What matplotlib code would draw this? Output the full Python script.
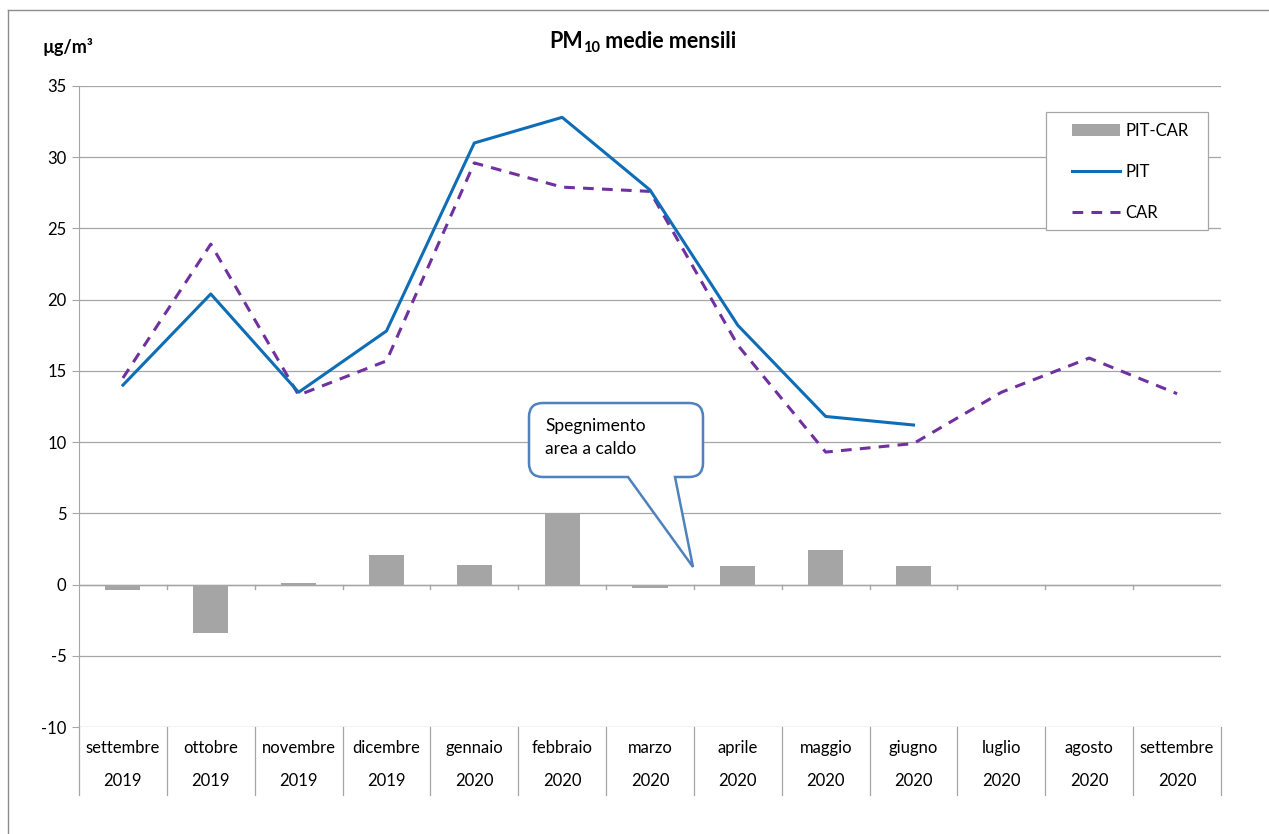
import matplotlib
matplotlib.use("Agg")
import matplotlib.pyplot as plt
from matplotlib.path import Path
from matplotlib.patches import PathPatch, Patch, Rectangle
from matplotlib.lines import Line2D
import matplotlib.transforms as mtransforms
import numpy as np

plt.rcParams['font.family'] = ['Lato', 'DejaVu Sans']

months = ["settembre", "ottobre", "novembre", "dicembre", "gennaio", "febbraio",
          "marzo", "aprile", "maggio", "giugno", "luglio", "agosto", "settembre"]
years = ["2019", "2019", "2019", "2019", "2020", "2020", "2020", "2020",
         "2020", "2020", "2020", "2020", "2020"]
pit = [14.0, 20.4, 13.5, 17.8, 31.0, 32.8, 27.7, 18.2, 11.8, 11.2, None, None, None]
car = [14.5, 23.9, 13.3, 15.7, 29.6, 27.9, 27.6, 16.8, 9.3, 9.9, 13.5, 15.9, 13.4]
diff = [-0.4, -3.4, 0.12, 2.1, 1.4, 5.0, -0.22, 1.28, 2.45, 1.33, 0, 0, 0]

W, H = 1269, 834
fig = plt.figure(figsize=(W / 100, H / 100), dpi=100)
ax = fig.add_axes([79 / W, 1 - 727 / H, (1221 - 79) / W, (727 - 86) / H])

x = np.arange(len(months))
grid_c = "#A6A6A6"
pit_c = "#0F6DB6"
car_c = "#7030A0"
bar_c = "#A5A5A5"

ax.bar(x, diff, width=0.4, color=bar_c, zorder=2)
pit_arr = np.array([np.nan if v is None else v for v in pit], dtype=float)
ax.plot(x, pit_arr, color=pit_c, lw=2.2, zorder=4)
ax.plot(x, car, color=car_c, lw=2.2, ls=(0, (3.5, 2.7)), zorder=3)

ax.set_xlim(-0.5, len(months) - 0.5)
ax.set_ylim(-10, 35)
ax.set_yticks(np.arange(-10, 36, 5))
ax.set_yticklabels([str(v) for v in range(-10, 36, 5)], fontsize=12)
for v in range(-10, 36, 5):
    ax.axhline(v, color=grid_c, lw=0.9, zorder=0)
ax.axhline(0, color=grid_c, lw=1.0, zorder=2.5)
ax.tick_params(axis="y", length=5, color=grid_c, pad=4)
ax.tick_params(axis="x", length=0, labelbottom=False)
for s in ["top", "right", "bottom"]:
    ax.spines[s].set_visible(False)
ax.spines["left"].set_color(grid_c)

# category tick marks at zero line
for b in np.arange(0.5, len(months) - 0.5, 1):
    ax.plot([b, b], [0, -0.3], color=grid_c, lw=1.0, zorder=2.5)

# label table under axes
trans = mtransforms.blended_transform_factory(ax.transData, ax.transAxes)
tbl_h = (795 - 727) / (727 - 86)
for b in np.arange(-0.5, len(months), 1):
    ax.plot([b, b], [0, -tbl_h], color=grid_c, lw=0.9, transform=trans, clip_on=False)
for i in range(len(months)):
    ax.text(x[i], -(748 - 727) / (727 - 86), months[i], transform=trans,
            ha="center", va="center", fontsize=12)
    ax.text(x[i], -(781 - 727) / (727 - 86), years[i], transform=trans,
            ha="center", va="center", fontsize=12)

# title with bold subscript, assembled from pieces
renderer = fig.canvas.get_renderer()
pix = mtransforms.Affine2D().scale(1 / W, 1 / H) + fig.transFigure
ty = H - 42
t1 = fig.text(0, 0, "PM", fontsize=15.5, fontweight="bold", va="baseline", transform=pix)
t2 = fig.text(0, 0, "10", fontsize=10.5, fontweight="bold", va="baseline", transform=pix)
t3 = fig.text(0, 0, " medie mensili", fontsize=15.5, fontweight="bold", va="baseline",
              transform=pix)
w1 = t1.get_window_extent(renderer).width
w2 = t2.get_window_extent(renderer).width
w3 = t3.get_window_extent(renderer).width
x0 = 643 - (w1 + w2 + w3) / 2
base = ty - 6
t1.set_position((x0, base))
t2.set_position((x0 + w1, base - 4))
t3.set_position((x0 + w1 + w2, base))

fig.text(42 / W, 1 - 47 / H, "µg/m³", ha="left", va="center", fontsize=13, fontweight="bold")

# legend (frame drawn separately)
fig.add_artist(Rectangle((1046, H - 230), 1208 - 1046, 230 - 112, transform=pix,
                         facecolor="white", edgecolor=grid_c, lw=0.9, zorder=5))
handles = [Patch(facecolor=bar_c, edgecolor="none"),
           Line2D([], [], color=pit_c, lw=2.2),
           Line2D([], [], color=car_c, lw=2.2, ls=(0, (3.5, 2.7)))]
leg = fig.legend(handles, ["PIT-CAR", "PIT", "CAR"], loc="upper left",
                 bbox_to_anchor=(1072 / W, 1 - 123 / H), fontsize=12, frameon=False,
                 labelspacing=1.5, handlelength=2.9, handletextpad=0.3,
                 borderpad=0, borderaxespad=0)
leg.set_zorder(6)

# callout
L, R, T, B, r = 529, 703, 403, 477, 14
tip = (693, 567)
pb1, pb2 = 675, 628
pts = [((L + r, T), Path.MOVETO), ((R - r, T), Path.LINETO),
       ((R, T), Path.CURVE3), ((R, T + r), Path.CURVE3),
       ((R, B - r), Path.LINETO),
       ((R, B), Path.CURVE3), ((R - r, B), Path.CURVE3),
       ((pb1, B), Path.LINETO), (tip, Path.LINETO), ((pb2, B), Path.LINETO),
       ((L + r, B), Path.LINETO),
       ((L, B), Path.CURVE3), ((L, B - r), Path.CURVE3),
       ((L, T + r), Path.LINETO),
       ((L, T), Path.CURVE3), ((L + r, T), Path.CURVE3),
       ((L + r, T), Path.CLOSEPOLY)]
verts = [(px, H - py) for (px, py), _ in pts]
codes = [c for _, c in pts]
patch = PathPatch(Path(verts, codes), facecolor="white", edgecolor="#4F81BD", lw=1.8,
                  transform=pix, zorder=10)
fig.add_artist(patch)
fig.text(545 / W, 1 - 426 / H, "Spegnimento", ha="left", va="center", fontsize=12.5, zorder=11)
fig.text(545 / W, 1 - 449 / H, "area a caldo", ha="left", va="center", fontsize=12.5, zorder=11)

# chart border (partially visible)
fig.add_artist(Line2D([8 / W, 8 / W], [0, 1 - 10 / H], color="#8C8C8C", lw=1.0,
                      transform=fig.transFigure))
fig.add_artist(Line2D([8 / W, 1], [1 - 10 / H, 1 - 10 / H], color="#8C8C8C", lw=1.0,
                      transform=fig.transFigure))

fig.savefig("out.png", dpi=100, facecolor="white")
